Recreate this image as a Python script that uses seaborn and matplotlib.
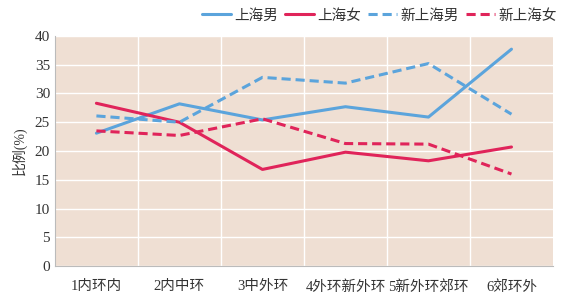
import matplotlib
matplotlib.use("Agg")
import matplotlib.pyplot as plt
import pandas as pd
import seaborn as sns

categories = ["1内环内", "2内中环", "3中外环", "4外环新外环", "5新外环郊环", "6郊环外"]
sh_male     = [23.1, 28.2, 25.4, 27.7, 25.9, 37.7]
sh_female   = [28.3, 25.0, 16.8, 19.8, 18.3, 20.7]
new_male    = [26.1, 25.0, 32.8, 31.8, 35.2, 26.4]
new_female  = [23.5, 22.7, 25.6, 21.3, 21.2, 16.0]
series_names = ["上海男", "上海女", "新上海男", "新上海女"]

BLUE = "#5BA4DC"
RED = "#E0245A"
BG = "#EFDFD3"

rows = []
for name, vals in zip(series_names, [sh_male, sh_female, new_male, new_female]):
    for i, v in enumerate(vals):
        rows.append({"pos": i, "cat": categories[i], "value": v, "series": name})
df = pd.DataFrame(rows)

sns.set_theme(style="white")
plt.rcParams["font.family"] = ["Liberation Serif", "Noto Sans CJK SC"]

fig, ax = plt.subplots(figsize=(5.66, 2.97), dpi=100)
fig.subplots_adjust(left=0.097, right=0.977, top=0.879, bottom=0.104)
ax.set_facecolor(BG)

palette = {"上海男": BLUE, "上海女": RED, "新上海男": BLUE, "新上海女": RED}
dashes = {"上海男": "", "上海女": "", "新上海男": (3, 1.6), "新上海女": (3, 1.6)}
sns.lineplot(data=df, x="pos", y="value", hue="series", style="series",
             palette=palette, dashes=dashes, linewidth=2.2, ax=ax,
             hue_order=series_names, style_order=series_names)

ax.set_xlim(-0.5, len(categories) - 0.5)
ax.set_ylim(0, 40)
ax.set_yticks(range(0, 41, 5))
ax.set_xticks(range(len(categories)))
ax.set_xticklabels(categories)
ax.set_xticks([i + 0.5 for i in range(len(categories) - 1)], minor=True)
ax.grid(True, which="minor", axis="x", color="white", linewidth=1)
ax.grid(True, which="major", axis="y", color="white", linewidth=1)
ax.set_axisbelow(True)
ax.tick_params(axis="both", which="both", length=0, labelsize=10.5, colors="#333333")
ax.tick_params(axis="y", labelsize=11)
ax.tick_params(axis="x", pad=10)
ax.set_xlabel("")
ax.set_ylabel("比例(%)", fontsize=10, color="#333333", labelpad=6)

for s in ["top", "right"]:
    ax.spines[s].set_visible(False)
for s in ["left", "bottom"]:
    ax.spines[s].set_color("#BBBBBB")
    ax.spines[s].set_linewidth(0.8)

leg = ax.legend(loc="lower right", bbox_to_anchor=(1.025, 1.02), ncol=4, frameon=False,
                fontsize=10.5, handlelength=2.0, handletextpad=0.2, columnspacing=0.5,
                borderaxespad=0.2)
for t in leg.get_texts():
    t.set_color("#333333")

fig.savefig("out.png", dpi=100)
